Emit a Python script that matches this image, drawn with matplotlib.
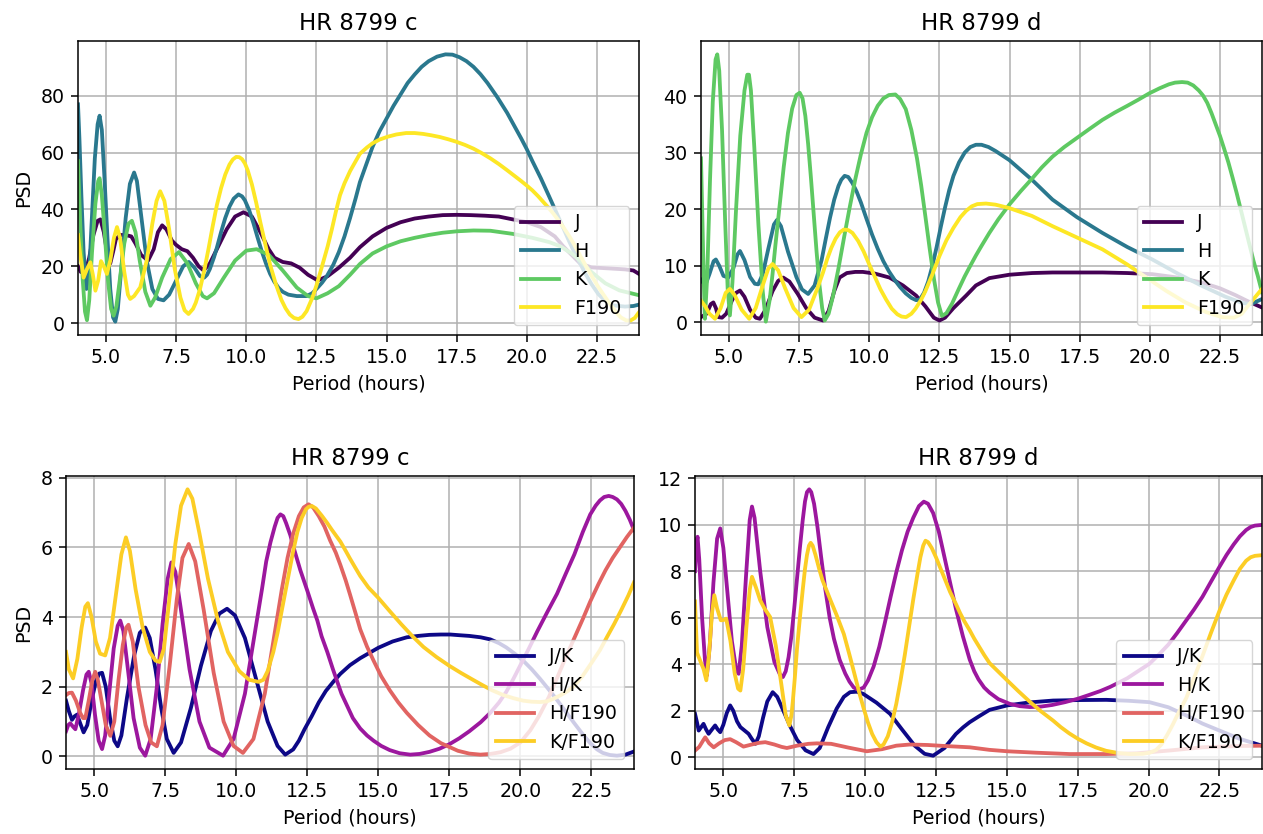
import numpy as np
import matplotlib
matplotlib.use("Agg")
import matplotlib.pyplot as plt

# ---------------- data (period [h], PSD) ----------------
c_J = [(4.0, 20), (4.1, 18), (4.25, 17.5), (4.4, 23), (4.55, 31), (4.7, 36), (4.8, 36.5), (4.92, 32),
       (5.05, 24), (5.15, 21), (5.25, 25), (5.35, 29.5), (5.5, 31), (5.7, 31), (5.9, 30.5), (6.05, 28),
       (6.25, 24), (6.5, 22), (6.7, 26), (6.85, 32), (7.0, 34.4), (7.15, 33), (7.35, 29), (7.5, 27.5),
       (7.7, 26), (7.9, 25.3), (8.1, 23), (8.3, 20), (8.48, 18.5), (8.7, 21), (9.0, 27), (9.3, 33),
       (9.6, 37.5), (9.9, 39), (10.2, 37.5), (10.5, 32), (10.8, 26), (11.0, 23), (11.3, 21.5), (11.6, 21),
       (11.9, 19.5), (12.2, 17), (12.55, 15), (12.9, 16.5), (13.3, 19.5), (13.7, 23), (14.05, 26.7),
       (14.5, 30.5), (15.0, 33.5), (15.5, 35.5), (16.0, 36.8), (16.5, 37.5), (17.0, 38), (17.5, 38.1),
       (18.0, 38), (18.5, 37.8), (19.0, 37.5), (19.5, 36.5), (20.0, 35.5), (20.5, 33.8), (21.0, 30.5),
       (21.3, 27), (21.6, 24), (21.9, 21), (22.3, 19.6), (23.0, 19.2), (23.5, 18.9), (23.8, 18.5), (24.0, 17.3)]
c_H = [(4.0, 77), (4.05, 65), (4.12, 45), (4.2, 25), (4.3, 12), (4.4, 18), (4.5, 38), (4.6, 58), (4.7, 70),
       (4.77, 73), (4.85, 68), (4.95, 50), (5.05, 30), (5.15, 12), (5.25, 2), (5.33, 0.5), (5.42, 5),
       (5.55, 20), (5.7, 37), (5.85, 49), (6.0, 53), (6.1, 50), (6.25, 38), (6.45, 22), (6.65, 12),
       (6.85, 8.5), (7.05, 8), (7.25, 10), (7.5, 15), (7.75, 20), (7.95, 21.5), (8.15, 19.5), (8.35, 16.5),
       (8.5, 16), (8.6, 17), (8.7, 19), (8.85, 23.2), (8.95, 26.5), (9.1, 32), (9.25, 37), (9.4, 41),
       (9.55, 43.8), (9.72, 45.3), (9.85, 44.6), (9.95, 43.2), (10.1, 39.8), (10.25, 35.3), (10.4, 30.2),
       (10.55, 25.3), (10.7, 21), (10.85, 17.3), (11.0, 14.5), (11.15, 12.4), (11.3, 11.0), (11.5, 10.0),
       (11.8, 9.5), (12.15, 9.5), (12.35, 10.5), (12.5, 12), (12.7, 14.2), (12.87, 16.5), (13.1, 20.5),
       (13.3, 25), (13.5, 30.5), (13.7, 37), (13.9, 44), (14.05, 49.6), (14.3, 56.5), (14.5, 62), (14.75, 67.5),
       (15.0, 72), (15.25, 76.5), (15.5, 80.5), (15.75, 84.5), (16.0, 87.5), (16.25, 90.2), (16.5, 92.2),
       (16.8, 93.8), (17.1, 94.6), (17.35, 94.5), (17.6, 93.6), (17.85, 92.2), (18.1, 90.2), (18.35, 87.6),
       (18.6, 84.5), (18.95, 79.5), (19.3, 74), (19.55, 69.5), (19.8, 65), (20.0, 61.2), (20.2, 57),
       (20.5, 51), (20.8, 44.5), (21.05, 39), (21.3, 33.5), (21.5, 29), (21.7, 24.8), (21.9, 21), (22.1, 17.2),
       (22.3, 13.8), (22.55, 10.2), (22.8, 7.8), (23.1, 6.2), (23.5, 5.8), (23.8, 6.0), (24.0, 6.5)]
c_K = [(4.0, 57), (4.08, 35), (4.17, 15), (4.25, 4), (4.32, 1), (4.4, 8), (4.5, 25), (4.62, 42), (4.72, 50),
       (4.77, 51), (4.85, 45), (4.95, 32), (5.07, 15), (5.18, 5), (5.27, 2.6), (5.37, 6), (5.5, 16),
       (5.65, 28), (5.8, 35), (5.92, 36), (6.05, 32), (6.2, 22), (6.4, 11), (6.58, 6.1), (6.75, 9), (7.0, 16),
       (7.3, 22.5), (7.6, 25), (7.9, 21), (8.2, 14), (8.45, 9.5), (8.6, 8.7), (8.85, 10.5), (9.2, 16),
       (9.6, 22), (10.0, 25.5), (10.37, 26), (10.8, 24), (11.3, 18.5), (11.8, 12.5), (12.2, 9.5), (12.5, 8.7),
       (12.9, 10.5), (13.3, 13), (13.7, 17), (14.05, 20.8), (14.5, 24.5), (15.0, 27), (15.5, 28.8), (16.0, 30),
       (16.5, 31), (17.0, 31.8), (17.5, 32.3), (18.1, 32.6), (18.7, 32.5), (19.5, 31.4), (20.2, 30),
       (20.8, 28.5), (21.2, 27), (21.6, 24.5), (21.9, 22), (22.3, 18), (22.8, 14), (23.3, 11.5), (24.0, 9.8)]
c_F190 = [(4.0, 31), (4.08, 24), (4.2, 16), (4.32, 19), (4.44, 21.4), (4.53, 17), (4.62, 11.4), (4.72, 15),
          (4.82, 21.8), (4.92, 20), (5.03, 17.3), (5.15, 22), (5.28, 30), (5.39, 33.8), (5.5, 30), (5.65, 18),
          (5.78, 10), (5.86, 8.5), (6.0, 9.5), (6.22, 12.6), (6.45, 22), (6.65, 35), (6.8, 43), (6.93, 46.4),
          (7.08, 43), (7.25, 33), (7.45, 19), (7.65, 9), (7.8, 4.5), (7.94, 3.2), (8.1, 5), (8.2, 7.2),
          (8.35, 12), (8.5, 18.5), (8.65, 26), (8.8, 34), (8.95, 41.5), (9.1, 47.5), (9.25, 52.3), (9.4, 55.8),
          (9.52, 57.6), (9.64, 58.5), (9.75, 58.4), (9.85, 57.7), (9.95, 56.2), (10.05, 53.8), (10.2, 48.8),
          (10.35, 42.5), (10.5, 35.5), (10.7, 26.8), (10.85, 20.5), (11.05, 13.8), (11.25, 8.2), (11.4, 5.2),
          (11.55, 3.0), (11.7, 1.8), (11.86, 1.4), (12.0, 2.2), (12.15, 4.2), (12.35, 8.8), (12.5, 13.2),
          (12.7, 20), (12.9, 27), (13.05, 33), (13.2, 39.5), (13.34, 45), (13.5, 49.2), (13.7, 53.5), (13.9, 57),
          (14.05, 59.6), (14.3, 61.8), (14.5, 63.3), (14.75, 64.6), (15.04, 65.6), (15.35, 66.4), (15.7, 66.9),
          (16.0, 66.9), (16.3, 66.6), (16.6, 66.1), (16.9, 65.5), (17.2, 64.7), (17.5, 63.8), (17.8, 62.7),
          (18.1, 61.4), (18.4, 59.8), (18.7, 58.0), (19.0, 56.0), (19.3, 53.8), (19.55, 51.9), (19.8, 50),
          (20.0, 48.4), (20.2, 46.7), (20.4, 44.7), (20.6, 42.5), (20.8, 40.3), (20.95, 38.5), (21.15, 35.9),
          (21.3, 33.8), (21.5, 30.8), (21.65, 28.3), (21.85, 24.7), (22.0, 22), (22.2, 18.5), (22.35, 16),
          (22.55, 12.7), (22.7, 10.5), (22.9, 7.6), (23.05, 5.6), (23.2, 3.6), (23.35, 2.0), (23.55, 0.9),
          (23.7, 0.9), (23.85, 1.8), (24.0, 3.8)]

d_J = [(4.0, 0.9), (4.2, 1.5), (4.35, 3.2), (4.44, 3.5), (4.53, 2.5), (4.62, 0.9), (4.75, 0.8), (4.9, 1.5),
       (5.1, 3.8), (5.25, 5.2), (5.39, 5.6), (5.55, 4.5), (5.75, 2.2), (5.95, 0.8), (6.1, 0.6), (6.3, 2.2),
       (6.55, 5.5), (6.75, 7.3), (6.93, 7.9), (7.15, 7.2), (7.45, 5.0), (7.75, 2.5), (8.05, 0.8), (8.35, 0.3),
       (8.55, 2.0), (8.75, 5.5), (8.94, 7.9), (9.2, 8.7), (9.5, 8.9), (9.77, 8.9), (10.2, 8.6), (10.72, 7.9),
       (11.2, 6.5), (11.67, 4.7), (12.0, 2.8), (12.3, 0.8), (12.5, 0.3), (12.7, 0.8), (13.0, 2.5),
       (13.45, 4.7), (13.8, 6.5), (14.28, 7.8), (14.99, 8.4), (15.8, 8.7), (16.53, 8.8), (17.5, 8.8),
       (18.31, 8.8), (19.2, 8.7), (20.09, 8.5), (21.0, 7.9), (21.87, 7.0), (22.5, 6.0), (23.05, 4.8),
       (23.5, 3.7), (24.0, 2.6)]
d_H = [(4.0, 7.5), (4.15, 6.5), (4.3, 8.5), (4.45, 10.8), (4.53, 11.1), (4.65, 10.0), (4.8, 8.2), (4.97, 7.9),
       (5.15, 9.5), (5.3, 12), (5.39, 12.6), (5.55, 11), (5.75, 8), (5.92, 6.8), (6.04, 6.7), (6.2, 8.5),
       (6.4, 13), (6.6, 17.3), (6.71, 18.1), (6.85, 17), (7.1, 12.5), (7.4, 8), (7.6, 5.8), (7.82, 5.0),
       (8.05, 6.5), (8.3, 11), (8.45, 14.8), (8.6, 18.5), (8.75, 21.7), (8.9, 24.1), (9.0, 25.2), (9.12, 25.9),
       (9.25, 25.7), (9.4, 24.6), (9.55, 23.1), (9.7, 21.2), (9.9, 18.3), (10.1, 15.5), (10.3, 13.0),
       (10.5, 10.8), (10.7, 9.0), (10.9, 7.5), (11.1, 6.2), (11.3, 5.1), (11.5, 4.3), (11.67, 3.9), (11.8, 4.0),
       (11.95, 5.2), (12.1, 7.2), (12.25, 10.0), (12.4, 13.3), (12.55, 16.9), (12.7, 20.3), (12.85, 23.4),
       (13.0, 25.9), (13.2, 28.3), (13.4, 30.0), (13.6, 31.0), (13.8, 31.4), (14.0, 31.4), (14.25, 31.0),
       (14.5, 30.3), (14.99, 28.7), (15.8, 25.2), (16.53, 21.7), (17.4, 18.6), (18.31, 15.8), (19.2, 13.3),
       (20.09, 11.1), (21.0, 8.6), (21.87, 6.4), (22.7, 4.5), (23.3, 3.4), (23.6, 3.2), (24.0, 4.1)]
d_K = [(4.0, 29), (4.05, 18), (4.1, 7), (4.14, 0.6), (4.22, 8), (4.32, 25), (4.42, 39), (4.52, 46.5),
       (4.58, 47.4), (4.65, 44.5), (4.75, 34), (4.86, 18), (4.95, 6), (5.03, 1.2), (5.12, 7), (5.25, 20),
       (5.4, 33), (5.55, 41), (5.65, 43.8), (5.71, 43.8), (5.78, 41), (5.9, 31), (6.05, 17), (6.2, 5.5),
       (6.31, 0.1), (6.45, 4), (6.55, 8.5), (6.65, 13.5), (6.8, 20.5), (6.95, 27.5), (7.1, 33.5), (7.25, 37.8),
       (7.4, 40.2), (7.52, 40.6), (7.62, 39.6), (7.72, 36.5), (7.82, 31.5), (7.92, 25.5), (8.02, 19),
       (8.12, 12.5), (8.22, 6.7), (8.32, 2.5), (8.41, 0.3), (8.55, 1.5), (8.7, 4.5), (8.9, 9.5), (9.1, 15),
       (9.3, 20.3), (9.5, 25.3), (9.7, 29.7), (9.9, 33.5), (10.1, 36.3), (10.3, 38.3), (10.5, 39.6),
       (10.7, 40.2), (10.93, 40.3), (11.1, 39.5), (11.3, 37.7), (11.5, 34.0), (11.7, 29), (11.85, 24.2),
       (12.0, 18.7), (12.15, 13.1), (12.3, 7.8), (12.45, 3.5), (12.59, 1.1), (12.75, 1.6), (12.95, 3.3),
       (13.2, 6), (13.4, 8.1), (13.57, 9.7), (13.8, 11.8), (14.0, 13.5), (14.28, 15.8), (14.6, 18.2),
       (14.99, 20.8), (15.4, 23.2), (15.8, 25.4), (16.15, 27.4), (16.53, 29.3), (16.95, 31.0), (17.4, 32.6),
       (17.85, 34.2), (18.31, 35.8), (18.75, 37.1), (19.2, 38.3), (19.6, 39.4), (19.98, 40.5), (20.35, 41.4),
       (20.68, 42.1), (20.9, 42.4), (21.15, 42.5), (21.35, 42.4), (21.55, 41.9), (21.75, 41.0), (21.9, 40.1),
       (22.05, 38.8), (22.2, 37.0), (22.35, 35.0), (22.5, 33.0), (22.65, 30.7), (22.8, 28.3), (22.95, 25.6),
       (23.1, 22.8), (23.25, 19.8), (23.4, 16.8), (23.55, 13.8), (23.7, 10.8), (23.85, 8.2), (24.0, 5.3)]
d_F190 = [(4.0, 3.8), (4.15, 2.8), (4.3, 1.5), (4.5, 0.6), (4.7, 2.5), (4.88, 5.2), (5.03, 5.9), (5.2, 4.8),
          (5.45, 2.2), (5.72, 0.6), (5.95, 2.5), (6.2, 6.5), (6.4, 9.5), (6.55, 10.3), (6.75, 9.2), (7.0, 6.0),
          (7.3, 2.5), (7.58, 0.9), (7.85, 2.2), (8.15, 6), (8.35, 8.8), (8.5, 11.2), (8.65, 13.2), (8.8, 14.8),
          (8.95, 15.9), (9.09, 16.4), (9.25, 16.3), (9.4, 15.8), (9.6, 14.4), (9.8, 12.5), (10.0, 10.2),
          (10.2, 8.0), (10.4, 5.8), (10.6, 4.0), (10.8, 2.4), (11.0, 1.4), (11.15, 1.0), (11.31, 0.9), (11.5, 1.5),
          (11.65, 2.4), (11.85, 4.0), (12.0, 5.5), (12.25, 8.5), (12.5, 11.7), (12.75, 14.5), (13.0, 16.7),
          (13.25, 18.6), (13.45, 19.7), (13.65, 20.5), (13.85, 20.9), (14.16, 21.0), (14.5, 20.8), (14.99, 20.2),
          (15.8, 18.8), (16.53, 17.0), (17.4, 15.0), (18.31, 12.9), (19.2, 10.2), (19.97, 7.6), (20.6, 5.5),
          (21.27, 3.5), (22.0, 1.8), (22.57, 0.9), (23.0, 0.8), (23.28, 1.5), (23.6, 3.5), (24.0, 5.9)]

c_JK = [(4.0, 1.6), (4.1, 1.3), (4.21, 1.05), (4.3, 1.15), (4.39, 1.2), (4.5, 0.95), (4.62, 0.69), (4.75, 0.9),
        (4.9, 1.6), (5.05, 2.15), (5.17, 2.38), (5.27, 2.4), (5.4, 2.0), (5.55, 1.1), (5.7, 0.45), (5.82, 0.29),
        (5.95, 0.6), (6.15, 1.7), (6.4, 2.9), (6.6, 3.55), (6.79, 3.7), (6.95, 3.4), (7.15, 2.5), (7.35, 1.4),
        (7.55, 0.5), (7.79, 0.1), (8.05, 0.4), (8.4, 1.4), (8.75, 2.6), (9.1, 3.6), (9.4, 4.1), (9.67, 4.24),
        (9.95, 4.05), (10.3, 3.4), (10.7, 2.2), (11.1, 1.0), (11.45, 0.3), (11.72, 0.05), (12.0, 0.2),
        (12.2, 0.45), (12.4, 0.78), (12.65, 1.15), (12.9, 1.55), (13.15, 1.88), (13.42, 2.15), (13.66, 2.37),
        (14.0, 2.62), (14.36, 2.82), (14.7, 2.98), (15.0, 3.12), (15.5, 3.3), (16.0, 3.42), (16.4, 3.46),
        (16.8, 3.49), (17.2, 3.5), (17.53, 3.5), (17.85, 3.48), (18.2, 3.46), (18.6, 3.42), (18.94, 3.36),
        (19.25, 3.25), (19.5, 3.13), (19.8, 2.95), (20.11, 2.74), (20.4, 2.5), (20.7, 2.22), (21.0, 1.92),
        (21.29, 1.62), (21.6, 1.28), (21.9, 0.95), (22.2, 0.63), (22.46, 0.38), (22.7, 0.2), (22.9, 0.1),
        (23.15, 0.04), (23.4, 0.02), (23.7, 0.05), (24.0, 0.14)]
c_HK = [(4.0, 0.72), (4.08, 0.9), (4.15, 0.95), (4.25, 0.85), (4.33, 0.78), (4.45, 1.2), (4.6, 1.9),
        (4.72, 2.35), (4.8, 2.43), (4.9, 2.1), (5.02, 1.2), (5.15, 0.45), (5.27, 0.21), (5.38, 0.6), (5.52, 1.8),
        (5.68, 3.1), (5.82, 3.75), (5.91, 3.9), (6.02, 3.6), (6.18, 2.5), (6.38, 1.1), (6.6, 0.25), (6.79, 0.02),
        (6.98, 0.5), (7.2, 2.0), (7.4, 3.8), (7.58, 5.1), (7.71, 5.57), (7.85, 5.3), (8.05, 4.2), (8.35, 2.5),
        (8.7, 1.0), (9.05, 0.25), (9.53, 0.02), (9.9, 0.5), (10.3, 1.8), (10.7, 3.8), (10.9, 4.8), (11.05, 5.6),
        (11.2, 6.15), (11.35, 6.6), (11.45, 6.85), (11.55, 6.95), (11.65, 6.9), (11.75, 6.7), (11.9, 6.35),
        (12.05, 5.9), (12.25, 5.35), (12.5, 4.75), (12.7, 4.25), (12.85, 3.9), (13.0, 3.45), (13.2, 3.0),
        (13.4, 2.5), (13.55, 2.15), (13.7, 1.8), (13.9, 1.45), (14.1, 1.1), (14.36, 0.8), (14.6, 0.6),
        (14.83, 0.45), (15.1, 0.3), (15.4, 0.18), (15.75, 0.09), (16.12, 0.05), (16.45, 0.07), (16.8, 0.13),
        (17.15, 0.22), (17.5, 0.35), (17.85, 0.52), (18.2, 0.72), (18.6, 0.98), (18.94, 1.25), (19.25, 1.55),
        (19.5, 1.85), (19.75, 2.22), (20.0, 2.62), (20.3, 3.1), (20.6, 3.6), (20.95, 4.15), (21.29, 4.67),
        (21.6, 5.25), (21.9, 5.8), (22.2, 6.45), (22.46, 6.95), (22.65, 7.2), (22.8, 7.35), (22.95, 7.45),
        (23.11, 7.48), (23.25, 7.45), (23.4, 7.38), (23.55, 7.25), (23.7, 7.05), (23.85, 6.8), (24.0, 6.5)]
c_HF = [(4.0, 1.76), (4.1, 1.82), (4.21, 1.83), (4.35, 1.6), (4.5, 1.25), (4.6, 1.1), (4.68, 1.1), (4.8, 1.6),
        (4.93, 2.2), (5.03, 2.43), (5.12, 2.2), (5.25, 1.6), (5.4, 0.9), (5.56, 0.59), (5.7, 1.0), (5.85, 2.2),
        (6.0, 3.2), (6.12, 3.7), (6.2, 3.78), (6.35, 3.3), (6.55, 2.0), (6.8, 0.9), (7.0, 0.4), (7.2, 0.29),
        (7.4, 0.9), (7.65, 2.6), (7.9, 4.5), (8.1, 5.7), (8.32, 6.1), (8.55, 5.6), (8.85, 4.2), (9.2, 2.4),
        (9.55, 1.0), (9.9, 0.3), (10.23, 0.1), (10.6, 0.5), (11.0, 1.8), (11.4, 3.8), (11.6, 4.8), (11.8, 5.7),
        (12.0, 6.4), (12.2, 6.9), (12.37, 7.15), (12.54, 7.24), (12.7, 7.15), (12.9, 6.9), (13.1, 6.6),
        (13.3, 6.2), (13.5, 5.85), (13.66, 5.5), (13.85, 5.05), (14.0, 4.65), (14.2, 4.1), (14.36, 3.65),
        (14.6, 3.15), (14.83, 2.75), (15.1, 2.3), (15.4, 1.9), (15.7, 1.55), (16.0, 1.25), (16.4, 0.9),
        (16.8, 0.6), (17.2, 0.38), (17.5, 0.27), (17.8, 0.16), (18.2, 0.08), (18.59, 0.05), (18.95, 0.07),
        (19.3, 0.12), (19.65, 0.22), (20.0, 0.4), (20.35, 0.75), (20.65, 1.15), (21.0, 1.7), (21.29, 2.25),
        (21.6, 2.85), (21.9, 3.4), (22.2, 3.95), (22.46, 4.45), (22.75, 4.95), (23.0, 5.35), (23.25, 5.7),
        (23.5, 6.0), (23.75, 6.3), (24.0, 6.57)]
c_KF = [(4.0, 3.0), (4.1, 2.5), (4.25, 2.24), (4.4, 2.8), (4.55, 3.7), (4.68, 4.3), (4.77, 4.4), (4.9, 4.0),
        (5.05, 3.3), (5.2, 2.95), (5.38, 2.9), (5.55, 3.4), (5.75, 4.6), (5.95, 5.8), (6.11, 6.29), (6.25, 5.9),
        (6.45, 4.8), (6.7, 3.7), (6.95, 3.0), (7.15, 2.75), (7.3, 2.71), (7.45, 3.1), (7.65, 4.6), (7.85, 6.1),
        (8.05, 7.2), (8.28, 7.67), (8.45, 7.4), (8.7, 6.4), (9.0, 5.1), (9.35, 3.9), (9.7, 3.0), (10.1, 2.45),
        (10.45, 2.2), (10.78, 2.14), (10.95, 2.2), (11.1, 2.45), (11.3, 3.0), (11.45, 3.55), (11.6, 4.2),
        (11.8, 5.05), (12.0, 5.9), (12.15, 6.45), (12.3, 6.85), (12.45, 7.1), (12.55, 7.17), (12.66, 7.19),
        (12.8, 7.12), (13.0, 6.92), (13.2, 6.7), (13.35, 6.52), (13.5, 6.35), (13.66, 6.17), (13.85, 5.9),
        (14.0, 5.68), (14.2, 5.4), (14.36, 5.18), (14.65, 4.85), (15.0, 4.55), (15.4, 4.17), (15.8, 3.8),
        (16.2, 3.45), (16.59, 3.14), (17.05, 2.85), (17.5, 2.6), (17.9, 2.4), (18.35, 2.19), (18.7, 2.03),
        (19.0, 1.9), (19.4, 1.76), (19.76, 1.67), (20.1, 1.6), (20.4, 1.57), (20.7, 1.56), (20.93, 1.58),
        (21.15, 1.65), (21.4, 1.75), (21.65, 1.87), (21.87, 2.0), (22.2, 2.32), (22.5, 2.68), (22.8, 3.05),
        (23.05, 3.43), (23.3, 3.8), (23.55, 4.2), (23.8, 4.62), (24.0, 5.0)]

d_JK = [(4.0, 1.87), (4.07, 1.5), (4.13, 1.15), (4.22, 1.3), (4.3, 1.44), (4.39, 1.2), (4.48, 1.01), (4.6, 1.2),
        (4.71, 1.37), (4.8, 1.2), (4.89, 1.08), (5.0, 1.4), (5.12, 1.9), (5.24, 2.23), (5.35, 2.0), (5.48, 1.55),
        (5.6, 1.3), (5.75, 1.15), (5.89, 1.01), (6.0, 0.8), (6.13, 0.58), (6.25, 0.9), (6.4, 1.7), (6.55, 2.4),
        (6.74, 2.8), (6.9, 2.6), (7.1, 2.05), (7.35, 1.35), (7.6, 0.75), (7.9, 0.3), (8.18, 0.14), (8.4, 0.4),
        (8.7, 1.3), (9.0, 2.1), (9.25, 2.6), (9.47, 2.8), (9.7, 2.82), (9.93, 2.73), (10.4, 2.35), (10.88, 1.87),
        (11.3, 1.2), (11.75, 0.5), (12.1, 0.15), (12.4, 0.07), (12.8, 0.4), (13.2, 1.0), (13.46, 1.29),
        (13.69, 1.51), (14.0, 1.75), (14.39, 2.04), (15.01, 2.23), (15.8, 2.36), (16.63, 2.44), (17.5, 2.46),
        (18.51, 2.47), (19.3, 2.43), (20.03, 2.37), (20.7, 2.15), (21.33, 1.8), (21.9, 1.45), (22.5, 1.15),
        (23.2, 0.8), (24.0, 0.5)]
d_HK = [(4.0, 8.0), (4.05, 9.2), (4.09, 9.48), (4.15, 8.5), (4.25, 6.0), (4.35, 4.2), (4.42, 3.52), (4.52, 4.8),
        (4.65, 7.5), (4.78, 9.4), (4.89, 9.84), (5.0, 9.0), (5.15, 7.0), (5.3, 5.0), (5.45, 3.8), (5.54, 3.59),
        (5.65, 4.8), (5.8, 7.8), (5.93, 10.2), (6.01, 10.78), (6.1, 10.3), (6.3, 8.0), (6.55, 5.6), (6.8, 4.1),
        (7.0, 3.55), (7.1, 3.45), (7.2, 3.7), (7.3, 4.3), (7.4, 5.2), (7.5, 6.4), (7.6, 7.7), (7.7, 9.0),
        (7.8, 10.2), (7.88, 11.0), (7.95, 11.4), (8.03, 11.52), (8.1, 11.4), (8.2, 10.9), (8.32, 9.9),
        (8.45, 8.6), (8.6, 7.2), (8.75, 6.0), (8.9, 5.1), (9.1, 4.2), (9.3, 3.6), (9.45, 3.25), (9.6, 3.0),
        (9.76, 2.9), (9.95, 3.0), (10.1, 3.3), (10.3, 3.9), (10.5, 4.75), (10.7, 5.8), (10.9, 6.9), (11.1, 7.95),
        (11.3, 8.9), (11.5, 9.7), (11.7, 10.3), (11.9, 10.8), (12.07, 10.99), (12.22, 10.9), (12.4, 10.5),
        (12.6, 9.7), (12.8, 8.6), (13.0, 7.5), (13.2, 6.4), (13.45, 5.2), (13.69, 4.2), (13.85, 3.7), (14.0, 3.35),
        (14.2, 3.0), (14.39, 2.78), (14.7, 2.5), (15.1, 2.3), (15.45, 2.2), (15.81, 2.16), (16.2, 2.18),
        (16.6, 2.25), (17.05, 2.37), (17.51, 2.52), (17.9, 2.68), (18.3, 2.85), (18.65, 3.03), (18.98, 3.23),
        (19.25, 3.4), (19.5, 3.6), (19.75, 3.8), (20.03, 4.02), (20.35, 4.4), (20.7, 4.85), (21.0, 5.33),
        (21.33, 5.89), (21.6, 6.35), (21.9, 6.9), (22.2, 7.55), (22.5, 8.19), (22.75, 8.7), (23.0, 9.15),
        (23.22, 9.5), (23.44, 9.77), (23.6, 9.9), (23.75, 9.96), (24.0, 9.99)]
d_HF = [(4.0, 0.29), (4.15, 0.45), (4.3, 0.75), (4.36, 0.86), (4.5, 0.6), (4.66, 0.43), (4.85, 0.6), (5.05, 0.74),
        (5.24, 0.78), (5.45, 0.65), (5.71, 0.46), (6.0, 0.55), (6.25, 0.62), (6.48, 0.65), (6.8, 0.55),
        (7.05, 0.45), (7.24, 0.4), (7.6, 0.5), (8.0, 0.58), (8.3, 0.6), (8.8, 0.58), (9.4, 0.42), (10.06, 0.26),
        (10.6, 0.35), (11.1, 0.5), (11.58, 0.55), (12.2, 0.53), (12.76, 0.49), (13.69, 0.43), (14.39, 0.32),
        (15.01, 0.26), (16.0, 0.2), (17.22, 0.14), (18.5, 0.14), (19.57, 0.17), (20.8, 0.3), (21.91, 0.43),
        (23.0, 0.48), (24.0, 0.5)]
d_KF = [(4.0, 6.7), (4.07, 4.5), (4.2, 4.1), (4.3, 3.8), (4.4, 3.31), (4.5, 4.5), (4.6, 6.2), (4.68, 6.97),
        (4.78, 6.4), (4.91, 5.89), (5.0, 5.9), (5.1, 5.96), (5.25, 5.0), (5.4, 3.6), (5.52, 2.95), (5.6, 2.87),
        (5.7, 3.8), (5.82, 5.7), (5.93, 7.2), (6.01, 7.76), (6.15, 7.3), (6.3, 6.75), (6.45, 6.4), (6.65, 6.03),
        (6.85, 4.8), (7.05, 3.1), (7.2, 1.8), (7.33, 1.37), (7.4, 1.8), (7.45, 2.4), (7.52, 3.4), (7.6, 4.7),
        (7.7, 6.0), (7.8, 7.2), (7.88, 8.1), (7.95, 8.7), (8.02, 9.1), (8.08, 9.22), (8.15, 9.1), (8.25, 8.7),
        (8.38, 8.1), (8.5, 7.6), (8.65, 7.15), (8.78, 6.75), (9.0, 6.1), (9.25, 5.3), (9.45, 4.4), (9.6, 3.7),
        (9.8, 2.75), (9.95, 2.1), (10.1, 1.5), (10.25, 1.0), (10.4, 0.65), (10.54, 0.46), (10.65, 0.55),
        (10.8, 0.9), (10.95, 1.5), (11.1, 2.3), (11.25, 3.3), (11.4, 4.4), (11.55, 5.6), (11.7, 6.8), (11.85, 7.9),
        (11.95, 8.6), (12.05, 9.1), (12.13, 9.31), (12.22, 9.25), (12.35, 9.0), (12.5, 8.6), (12.65, 8.15),
        (12.8, 7.7), (13.0, 7.1), (13.2, 6.6), (13.35, 6.2), (13.5, 5.85), (13.69, 5.46), (13.85, 5.1),
        (14.0, 4.8), (14.2, 4.4), (14.39, 4.05), (14.7, 3.68), (15.01, 3.31), (15.4, 2.85), (15.8, 2.4),
        (16.2, 1.98), (16.63, 1.58), (16.9, 1.3), (17.2, 1.03), (17.5, 0.8), (17.81, 0.6), (18.15, 0.42),
        (18.5, 0.28), (18.9, 0.19), (19.34, 0.14), (19.8, 0.15), (20.05, 0.2), (20.27, 0.32), (20.45, 0.55),
        (20.65, 0.95), (20.85, 1.4), (21.05, 1.9), (21.33, 2.55), (21.6, 3.4), (21.9, 4.35), (22.2, 5.35),
        (22.5, 6.3), (22.75, 7.0), (23.0, 7.6), (23.22, 8.1), (23.44, 8.45), (23.6, 8.6), (23.75, 8.66),
        (24.0, 8.69)]

band_labels = ["J", "H", "K", "F190"]
band_colors = ["#440154", "#2a788e", "#5ec962", "#fde725"]
ratio_labels = ["J/K", "H/K", "H/F190", "K/F190"]
ratio_colors = ["#0d0887", "#9c179e", "#e16462", "#fccd25"]
titles = ["HR 8799 c", "HR 8799 d", "HR 8799 c", "HR 8799 d"]
period_ticks = [5, 7.5, 10, 12.5, 15, 17.5, 20, 22.5]
psd_ticks = [[0, 20, 40, 60, 80], [0, 10, 20, 30, 40], [0, 2, 4, 6, 8], [0, 2, 4, 6, 8, 10, 12]]

panels = [
    [c_J, c_H, c_K, c_F190],
    [d_J, d_H, d_K, d_F190],
    [c_JK, c_HK, c_HF, c_KF],
    [d_JK, d_HK, d_HF, d_KF],
]

# ---------------- figure (matplotlib defaults scaled by ~1.37) ----------------
S = 1.37
plt.rcParams.update({
    "font.family": "DejaVu Sans",
    "font.size": 10 * S,
    "axes.linewidth": 0.8 * S,
    "axes.titlesize": 12 * S,
    "axes.titlepad": 6 * S,
    "axes.labelpad": 4 * S,
    "xtick.major.size": 3.5 * S,
    "ytick.major.size": 3.5 * S,
    "xtick.major.width": 0.8 * S,
    "ytick.major.width": 0.8 * S,
    "xtick.major.pad": 3.5 * S,
    "ytick.major.pad": 3.5 * S,
    "grid.linewidth": 0.8 * S,
    "legend.fontsize": 10 * S,
})

W, H = 1263, 834
fig = plt.figure(figsize=(W / 100, H / 100), dpi=100)

# axes boxes in pixels: (left, top, right, bottom)
boxes = [(78, 41, 639, 335), (701, 41, 1262, 335),
         (66, 476, 634, 769), (695, 476, 1262, 769)]

for i, (series, box) in enumerate(zip(panels, boxes)):
    l, t, r, b = box
    ax = fig.add_axes([l / W, 1 - b / H, (r - l) / W, (b - t) / H])
    labels = band_labels if i < 2 else ratio_labels
    colors = band_colors if i < 2 else ratio_colors
    for s, lab, col in zip(series, labels, colors):
        arr = np.array(s, dtype=float)
        ax.plot(arr[:, 0], arr[:, 1], color=col, lw=2 * S, label=lab,
                solid_joinstyle="round")
    ax.set_xlim(4, 24)
    ax.set_xticks(period_ticks)
    ax.set_yticks(psd_ticks[i])
    ax.grid(True, color="#b0b0b0")
    ax.set_title(titles[i])
    ax.set_xlabel("Period (hours)")
    if i % 2 == 0:
        ax.set_ylabel("PSD")
    ax.legend(loc="lower right")

fig.savefig("out.png", dpi=100)
